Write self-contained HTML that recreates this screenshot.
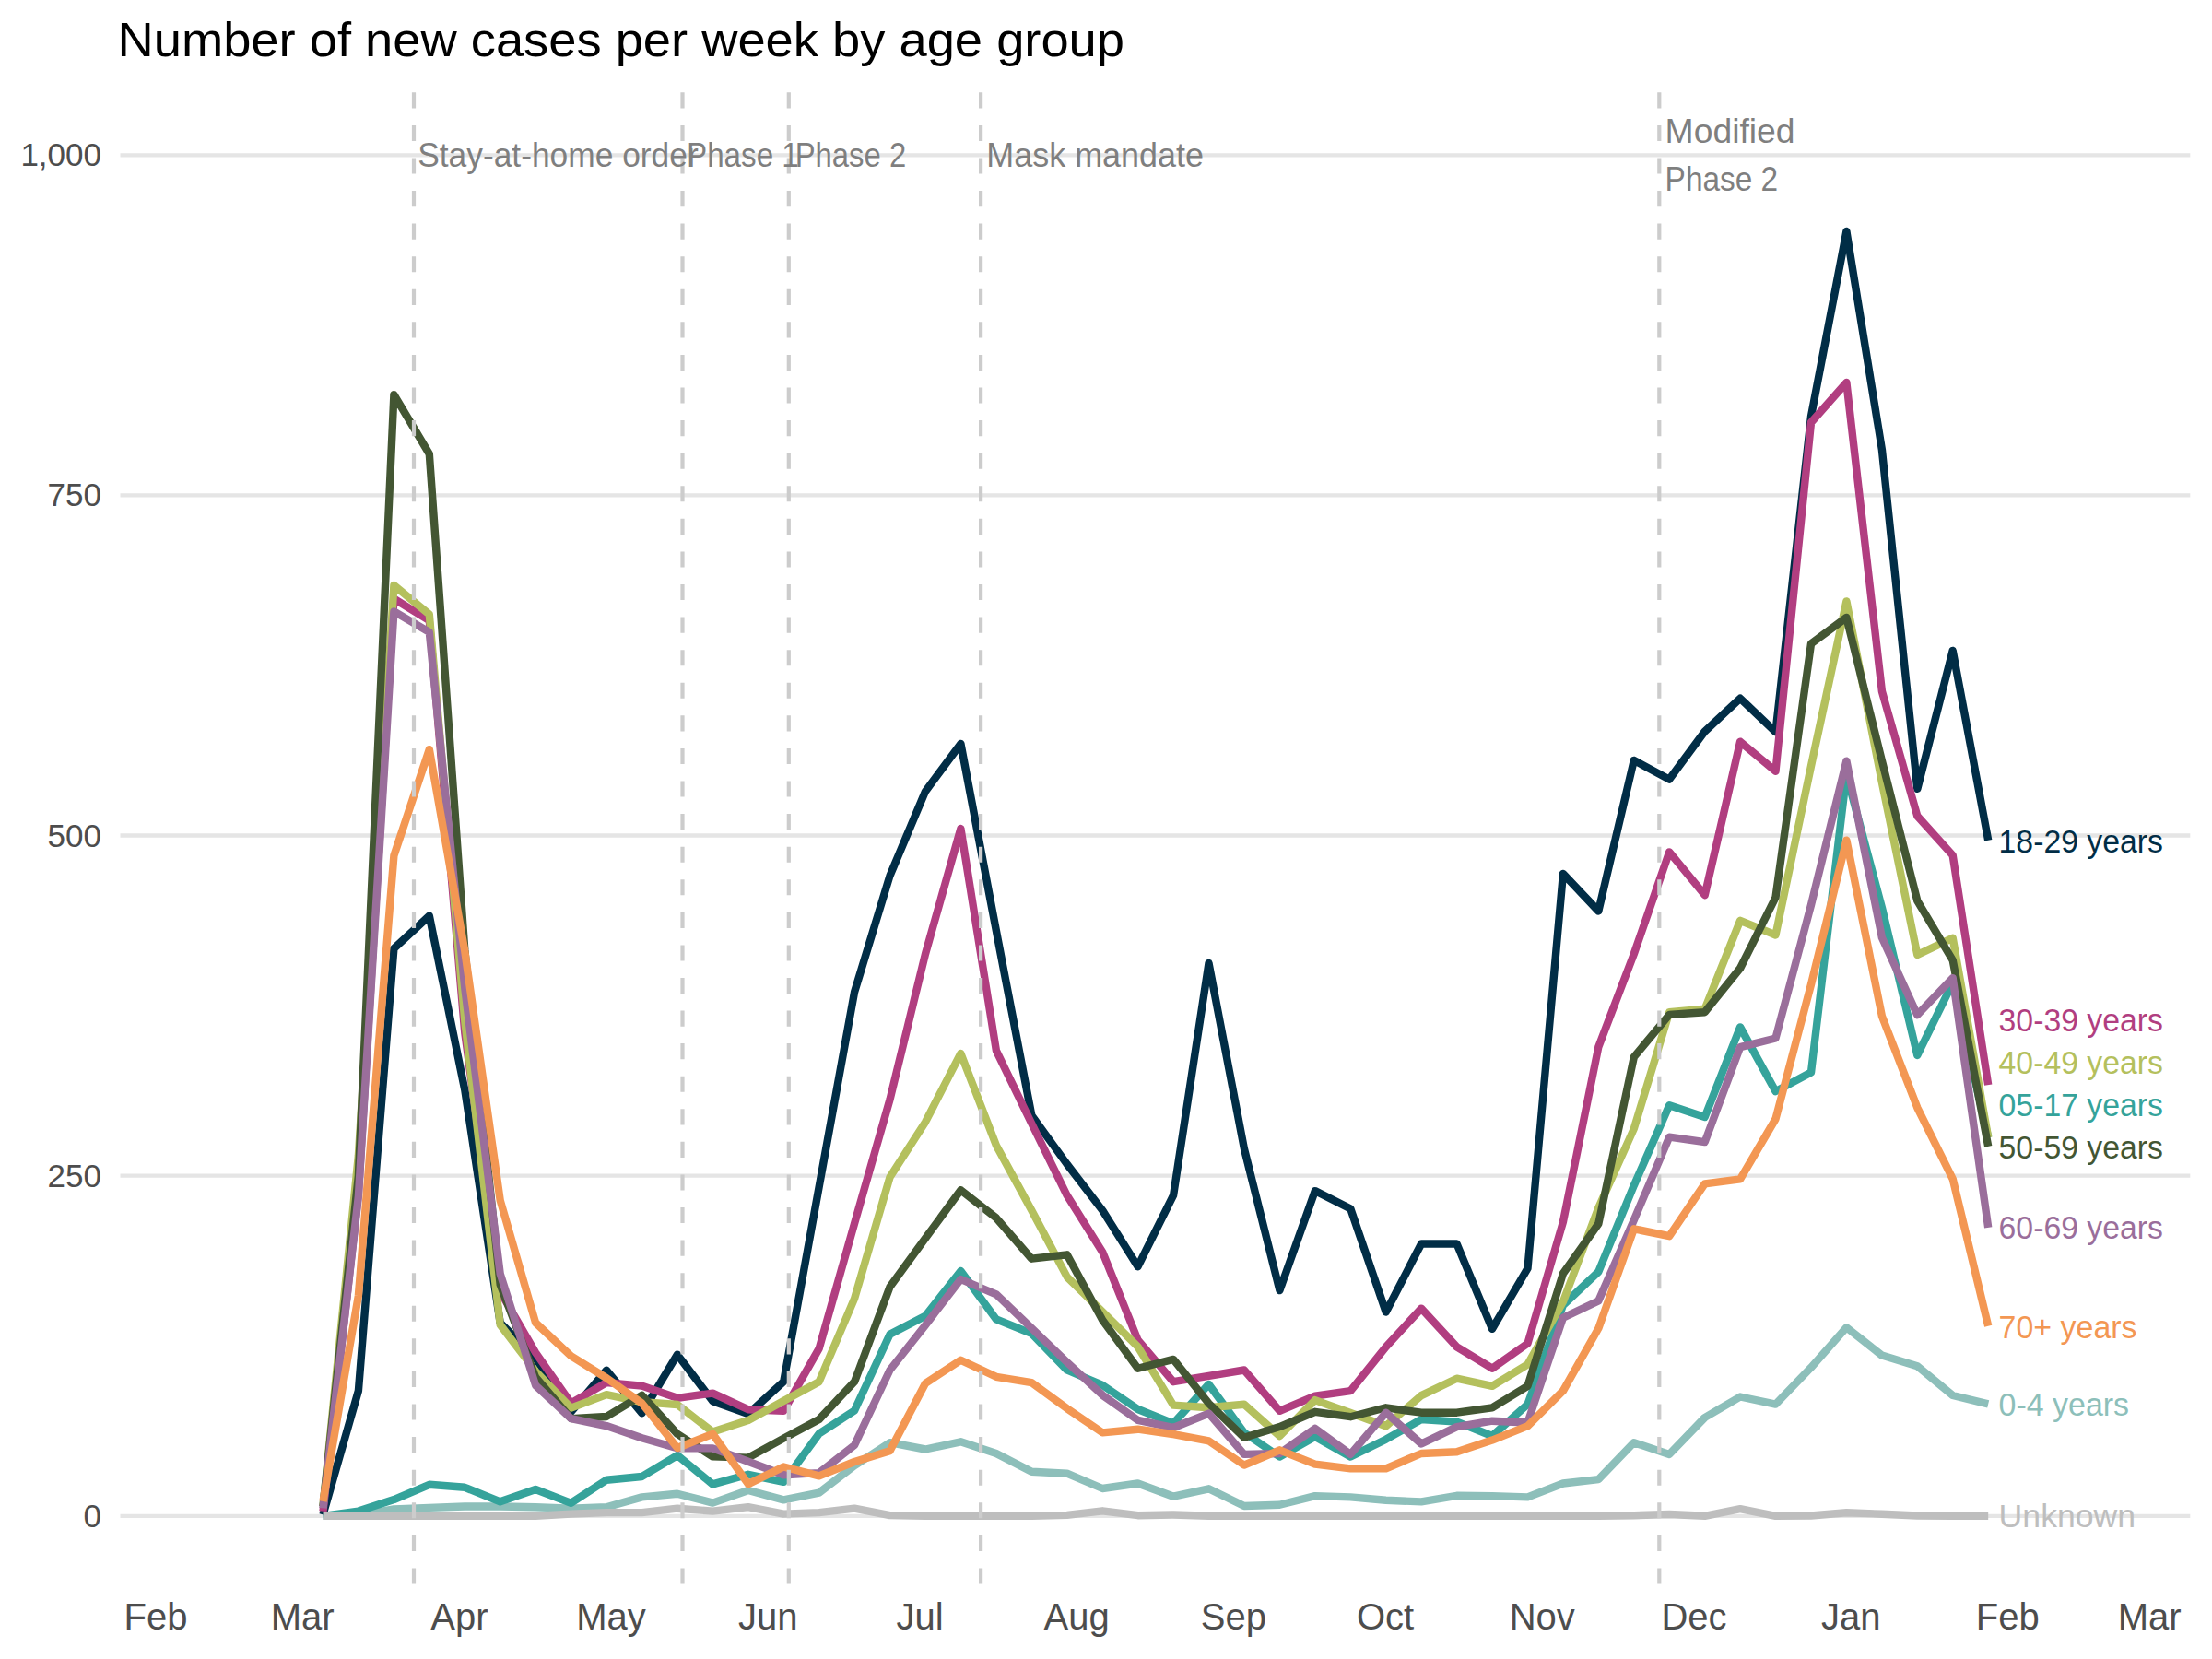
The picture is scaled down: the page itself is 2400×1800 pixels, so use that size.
<!DOCTYPE html>
<html lang="en"><head><meta charset="utf-8"><title>Number of new cases per week by age group</title>
<style>html,body{margin:0;padding:0;background:#fff}svg{display:block}text{font-family:"Liberation Sans",sans-serif}</style></head><body>
<svg width="2400" height="1800" viewBox="0 0 2400 1800">
<rect width="2400" height="1800" fill="#fff"/>
<g stroke="#E5E5E5" stroke-width="4.3">
<line x1="130.5" x2="2376.3" y1="1644.8" y2="1644.8"/>
<line x1="130.5" x2="2376.3" y1="1275.7" y2="1275.7"/>
<line x1="130.5" x2="2376.3" y1="906.5" y2="906.5"/>
<line x1="130.5" x2="2376.3" y1="537.4" y2="537.4"/>
<line x1="130.5" x2="2376.3" y1="168.3" y2="168.3"/>
</g>
<g fill="none" stroke-width="8.4" stroke-linejoin="round" stroke-linecap="butt">
<polyline stroke="#8DBFBA" points="350.5,1644.8 388.9,1644.1 427.4,1637.4 465.8,1635.9 504.3,1634.5 542.7,1634.5 581.1,1635.2 619.6,1636.7 658.0,1635.2 696.5,1624.4 734.9,1620.7 773.3,1630.6 811.8,1617.0 850.2,1627.4 888.7,1619.7 927.1,1590.2 965.5,1565.2 1004.0,1572.5 1042.4,1564.3 1080.9,1577.0 1119.3,1596.8 1157.7,1598.7 1196.2,1615.0 1234.6,1609.5 1273.1,1623.7 1311.5,1615.3 1349.9,1634.0 1388.4,1632.7 1426.8,1623.1 1465.3,1624.4 1503.7,1627.7 1542.1,1629.4 1580.6,1622.8 1619.0,1623.1 1657.5,1624.4 1695.9,1609.5 1734.3,1605.1 1772.8,1565.2 1811.2,1577.9 1849.7,1538.0 1888.1,1515.5 1926.5,1523.6 1965.0,1483.7 2003.4,1440.3 2041.9,1470.6 2080.3,1482.2 2118.7,1514.0 2157.2,1523.4"/>
<polyline stroke="#35A39B" points="350.5,1644.8 388.9,1639.6 427.4,1627.1 465.8,1610.8 504.3,1613.8 542.7,1629.3 581.1,1616.0 619.6,1630.8 658.0,1605.7 696.5,1602.0 734.9,1579.1 773.3,1610.4 811.8,1599.8 850.2,1607.9 888.7,1555.5 927.1,1530.4 965.5,1447.7 1004.0,1427.8 1042.4,1379.0 1080.9,1431.4 1119.3,1446.8 1157.7,1486.5 1196.2,1502.9 1234.6,1529.0 1273.1,1544.4 1311.5,1501.9 1349.9,1554.4 1388.4,1580.6 1426.8,1558.9 1465.3,1580.6 1503.7,1561.7 1542.1,1540.0 1580.6,1542.6 1619.0,1558.0 1657.5,1523.7 1695.9,1416.1 1734.3,1379.9 1772.8,1286.2 1811.2,1199.3 1849.7,1212.0 1888.1,1114.4 1926.5,1184.1 1965.0,1163.5 2003.4,840.1 2041.9,984.8 2080.3,1145.0 2118.7,1066.3 2157.2,1234.3"/>
<polyline stroke="#012D46" points="350.5,1643.3 388.9,1509.0 427.4,1029.1 465.8,993.7 504.3,1182.7 542.7,1435.1 581.1,1473.5 619.6,1531.8 658.0,1486.8 696.5,1533.3 734.9,1469.7 773.3,1520.3 811.8,1534.1 850.2,1499.2 888.7,1287.5 927.1,1076.3 965.5,950.1 1004.0,858.7 1042.4,806.9 1080.9,1009.9 1119.3,1210.1 1157.7,1263.1 1196.2,1313.3 1234.6,1374.2 1273.1,1296.9 1311.5,1045.0 1349.9,1246.3 1388.4,1400.1 1426.8,1292.1 1465.3,1311.4 1503.7,1423.6 1542.1,1349.5 1580.6,1349.5 1619.0,1441.8 1657.5,1376.1 1695.9,947.9 1734.3,988.5 1772.8,824.9 1811.2,845.6 1849.7,793.6 1888.1,757.7 1926.5,794.3 1965.0,451.8 2003.4,251.0 2041.9,487.8 2080.3,855.9 2118.7,705.9 2157.2,911.7"/>
<polyline stroke="#B13E80" points="350.5,1639.8 388.9,1294.9 427.4,649.6 465.8,673.3 504.3,1120.6 542.7,1401.2 581.1,1467.6 619.6,1522.3 658.0,1500.1 696.5,1503.6 734.9,1516.8 773.3,1511.6 811.8,1529.3 850.2,1530.8 888.7,1463.2 927.1,1327.4 965.5,1193.0 1004.0,1035.0 1042.4,899.0 1080.9,1139.8 1119.3,1219.0 1157.7,1297.1 1196.2,1358.4 1234.6,1454.0 1273.1,1499.2 1311.5,1492.9 1349.9,1486.5 1388.4,1530.8 1426.8,1514.6 1465.3,1509.1 1503.7,1461.3 1542.1,1419.6 1580.6,1461.3 1619.0,1484.7 1657.5,1457.6 1695.9,1325.9 1734.3,1136.0 1772.8,1035.0 1811.2,924.4 1849.7,971.2 1888.1,804.7 1926.5,836.7 1965.0,458.4 2003.4,415.0 2041.9,750.0 2080.3,885.4 2118.7,928.0 2157.2,1177.2"/>
<polyline stroke="#B4C05D" points="350.5,1634.5 388.9,1253.5 427.4,634.9 465.8,666.6 504.3,1107.4 542.7,1437.4 581.1,1487.8 619.6,1527.6 658.0,1513.1 696.5,1521.1 734.9,1524.0 773.3,1553.6 811.8,1541.1 850.2,1520.0 888.7,1499.2 927.1,1408.9 965.5,1277.2 1004.0,1217.4 1042.4,1142.9 1080.9,1242.7 1119.3,1313.3 1157.7,1385.4 1196.2,1423.3 1234.6,1461.3 1273.1,1524.6 1311.5,1527.3 1349.9,1523.7 1388.4,1558.0 1426.8,1519.1 1465.3,1533.0 1503.7,1547.2 1542.1,1514.1 1580.6,1495.7 1619.0,1503.8 1657.5,1480.3 1695.9,1412.4 1734.3,1310.5 1772.8,1224.6 1811.2,1098.1 1849.7,1094.8 1888.1,998.8 1926.5,1014.5 1965.0,831.2 2003.4,652.4 2041.9,849.0 2080.3,1036.0 2118.7,1017.7 2157.2,1234.3"/>
<polyline stroke="#435633" points="350.5,1634.5 388.9,1275.7 427.4,428.2 465.8,492.5 504.3,1030.6 542.7,1393.8 581.1,1494.2 619.6,1539.1 658.0,1537.0 696.5,1513.8 734.9,1555.8 773.3,1580.4 811.8,1581.6 850.2,1560.6 888.7,1540.0 927.1,1499.2 965.5,1396.2 1004.0,1343.6 1042.4,1291.2 1080.9,1321.4 1119.3,1365.7 1157.7,1361.3 1196.2,1432.3 1234.6,1484.7 1273.1,1474.9 1311.5,1522.7 1349.9,1559.8 1388.4,1548.1 1426.8,1531.8 1465.3,1537.2 1503.7,1527.3 1542.1,1532.7 1580.6,1532.7 1619.0,1527.3 1657.5,1503.8 1695.9,1381.7 1734.3,1327.8 1772.8,1146.9 1811.2,1100.9 1849.7,1098.2 1888.1,1050.5 1926.5,973.7 1965.0,698.4 2003.4,670.0 2041.9,825.6 2080.3,977.4 2118.7,1041.8 2157.2,1243.9"/>
<polyline stroke="#9A6E9B" points="350.5,1636.4 388.9,1297.8 427.4,663.4 465.8,685.8 504.3,1071.9 542.7,1382.0 581.1,1503.1 619.6,1539.1 658.0,1547.1 696.5,1560.2 734.9,1571.3 773.3,1571.4 811.8,1585.7 850.2,1600.2 888.7,1598.1 927.1,1568.0 965.5,1486.5 1004.0,1437.8 1042.4,1388.0 1080.9,1404.3 1119.3,1441.0 1157.7,1478.0 1196.2,1513.7 1234.6,1540.9 1273.1,1549.0 1311.5,1533.6 1349.9,1577.9 1388.4,1577.0 1426.8,1549.9 1465.3,1577.9 1503.7,1532.7 1542.1,1566.5 1580.6,1548.1 1619.0,1541.7 1657.5,1543.5 1695.9,1429.7 1734.3,1411.5 1772.8,1323.7 1811.2,1233.7 1849.7,1239.1 1888.1,1136.1 1926.5,1126.5 1965.0,981.9 2003.4,825.6 2041.9,1017.3 2080.3,1101.2 2118.7,1061.1 2157.2,1331.8"/>
<polyline stroke="#F39753" points="350.5,1629.0 388.9,1405.6 427.4,928.3 465.8,813.1 504.3,1032.1 542.7,1302.3 581.1,1435.1 619.6,1471.3 658.0,1495.1 696.5,1522.5 734.9,1571.0 773.3,1555.8 811.8,1610.1 850.2,1591.5 888.7,1601.4 927.1,1586.0 965.5,1574.2 1004.0,1501.0 1042.4,1475.7 1080.9,1493.8 1119.3,1500.1 1157.7,1528.2 1196.2,1554.4 1234.6,1550.7 1273.1,1556.2 1311.5,1563.4 1349.9,1589.6 1388.4,1573.3 1426.8,1588.7 1465.3,1593.3 1503.7,1593.3 1542.1,1577.0 1580.6,1575.3 1619.0,1562.6 1657.5,1547.2 1695.9,1509.1 1734.3,1441.3 1772.8,1333.3 1811.2,1341.2 1849.7,1284.4 1888.1,1279.4 1926.5,1214.0 1965.0,1068.1 2003.4,911.7 2041.9,1102.5 2080.3,1201.8 2118.7,1279.1 2157.2,1438.8"/>
<polyline stroke="#BEBEBE" points="350.5,1644.8 388.9,1644.8 427.4,1644.8 465.8,1644.8 504.3,1644.8 542.7,1644.8 581.1,1644.8 619.6,1642.6 658.0,1641.1 696.5,1641.1 734.9,1636.7 773.3,1639.6 811.8,1635.2 850.2,1642.6 888.7,1641.1 927.1,1636.7 965.5,1644.1 1004.0,1644.8 1042.4,1644.8 1080.9,1644.8 1119.3,1644.8 1157.7,1643.9 1196.2,1639.3 1234.6,1644.2 1273.1,1643.5 1311.5,1644.8 1349.9,1644.8 1388.4,1644.8 1426.8,1644.8 1465.3,1644.8 1503.7,1644.8 1542.1,1644.8 1580.6,1644.8 1619.0,1644.8 1657.5,1644.8 1695.9,1644.8 1734.3,1644.8 1772.8,1644.2 1811.2,1643.0 1849.7,1644.8 1888.1,1637.1 1926.5,1644.8 1965.0,1644.5 2003.4,1641.3 2041.9,1642.7 2080.3,1644.5 2118.7,1644.8 2157.2,1644.8"/>
</g>
<g stroke="#CCCCCC" stroke-width="4.2" stroke-dasharray="17.1 18.48">
<line x1="449.0" x2="449.0" y1="1718.5" y2="94.5"/>
<line x1="740.5" x2="740.5" y1="1718.5" y2="94.5"/>
<line x1="855.8" x2="855.8" y1="1718.5" y2="94.5"/>
<line x1="1064.1" x2="1064.1" y1="1718.5" y2="94.5"/>
<line x1="1800.3" x2="1800.3" y1="1718.5" y2="94.5"/>
</g>
<g fill="#7F7F7F" font-size="36.8">
<text x="453.2" y="180.9" textLength="304.5" lengthAdjust="spacingAndGlyphs">Stay-at-home order</text>
<text x="745.0" y="180.9" textLength="121.8" lengthAdjust="spacingAndGlyphs">Phase 1</text>
<text x="862.7" y="180.9" textLength="120.5" lengthAdjust="spacingAndGlyphs">Phase 2</text>
<text x="1070.3" y="180.9" textLength="235.7" lengthAdjust="spacingAndGlyphs">Mask mandate</text>
<text x="1806.6" y="154.8" textLength="141" lengthAdjust="spacingAndGlyphs">Modified</text>
<text x="1806.6" y="207.0" textLength="122.6" lengthAdjust="spacingAndGlyphs">Phase 2</text>
</g>
<g font-size="35.5">
<text x="2168.6" y="1535.9" fill="#8DBFBA" textLength="141.5" lengthAdjust="spacingAndGlyphs">0-4 years</text>
<text x="2168.6" y="1210.8" fill="#35A39B" textLength="178.3" lengthAdjust="spacingAndGlyphs">05-17 years</text>
<text x="2168.6" y="924.7" fill="#012D46" textLength="178.3" lengthAdjust="spacingAndGlyphs">18-29 years</text>
<text x="2168.6" y="1118.6" fill="#B13E80" textLength="178.3" lengthAdjust="spacingAndGlyphs">30-39 years</text>
<text x="2168.6" y="1164.7" fill="#B4C05D" textLength="178.3" lengthAdjust="spacingAndGlyphs">40-49 years</text>
<text x="2168.6" y="1256.7" fill="#435633" textLength="178.3" lengthAdjust="spacingAndGlyphs">50-59 years</text>
<text x="2168.6" y="1343.9" fill="#9A6E9B" textLength="178.3" lengthAdjust="spacingAndGlyphs">60-69 years</text>
<text x="2168.6" y="1452.2" fill="#F39753" textLength="150" lengthAdjust="spacingAndGlyphs">70+ years</text>
<text x="2168.6" y="1656.5" fill="#BEBEBE" textLength="148.5" lengthAdjust="spacingAndGlyphs">Unknown</text>
</g>
<g fill="#4D4D4D" font-size="35" text-anchor="end">
<text x="110" y="1656.8">0</text>
<text x="110" y="1287.7">250</text>
<text x="110" y="918.5">500</text>
<text x="110" y="549.4">750</text>
<text x="110" y="180.3">1,000</text>
</g>
<g fill="#4D4D4D" font-size="40" text-anchor="middle">
<text x="169.0" y="1768">Feb</text>
<text x="328.2" y="1768">Mar</text>
<text x="498.4" y="1768">Apr</text>
<text x="663.1" y="1768">May</text>
<text x="833.3" y="1768">Jun</text>
<text x="998.0" y="1768">Jul</text>
<text x="1168.2" y="1768">Aug</text>
<text x="1338.4" y="1768">Sep</text>
<text x="1503.1" y="1768">Oct</text>
<text x="1673.3" y="1768">Nov</text>
<text x="1838.0" y="1768">Dec</text>
<text x="2008.2" y="1768">Jan</text>
<text x="2178.3" y="1768">Feb</text>
<text x="2332.1" y="1768">Mar</text>
</g>
<text x="127.5" y="60.8" font-size="51.5" fill="#000" textLength="1092.5" lengthAdjust="spacingAndGlyphs">Number of new cases per week by age group</text>
</svg></body></html>
